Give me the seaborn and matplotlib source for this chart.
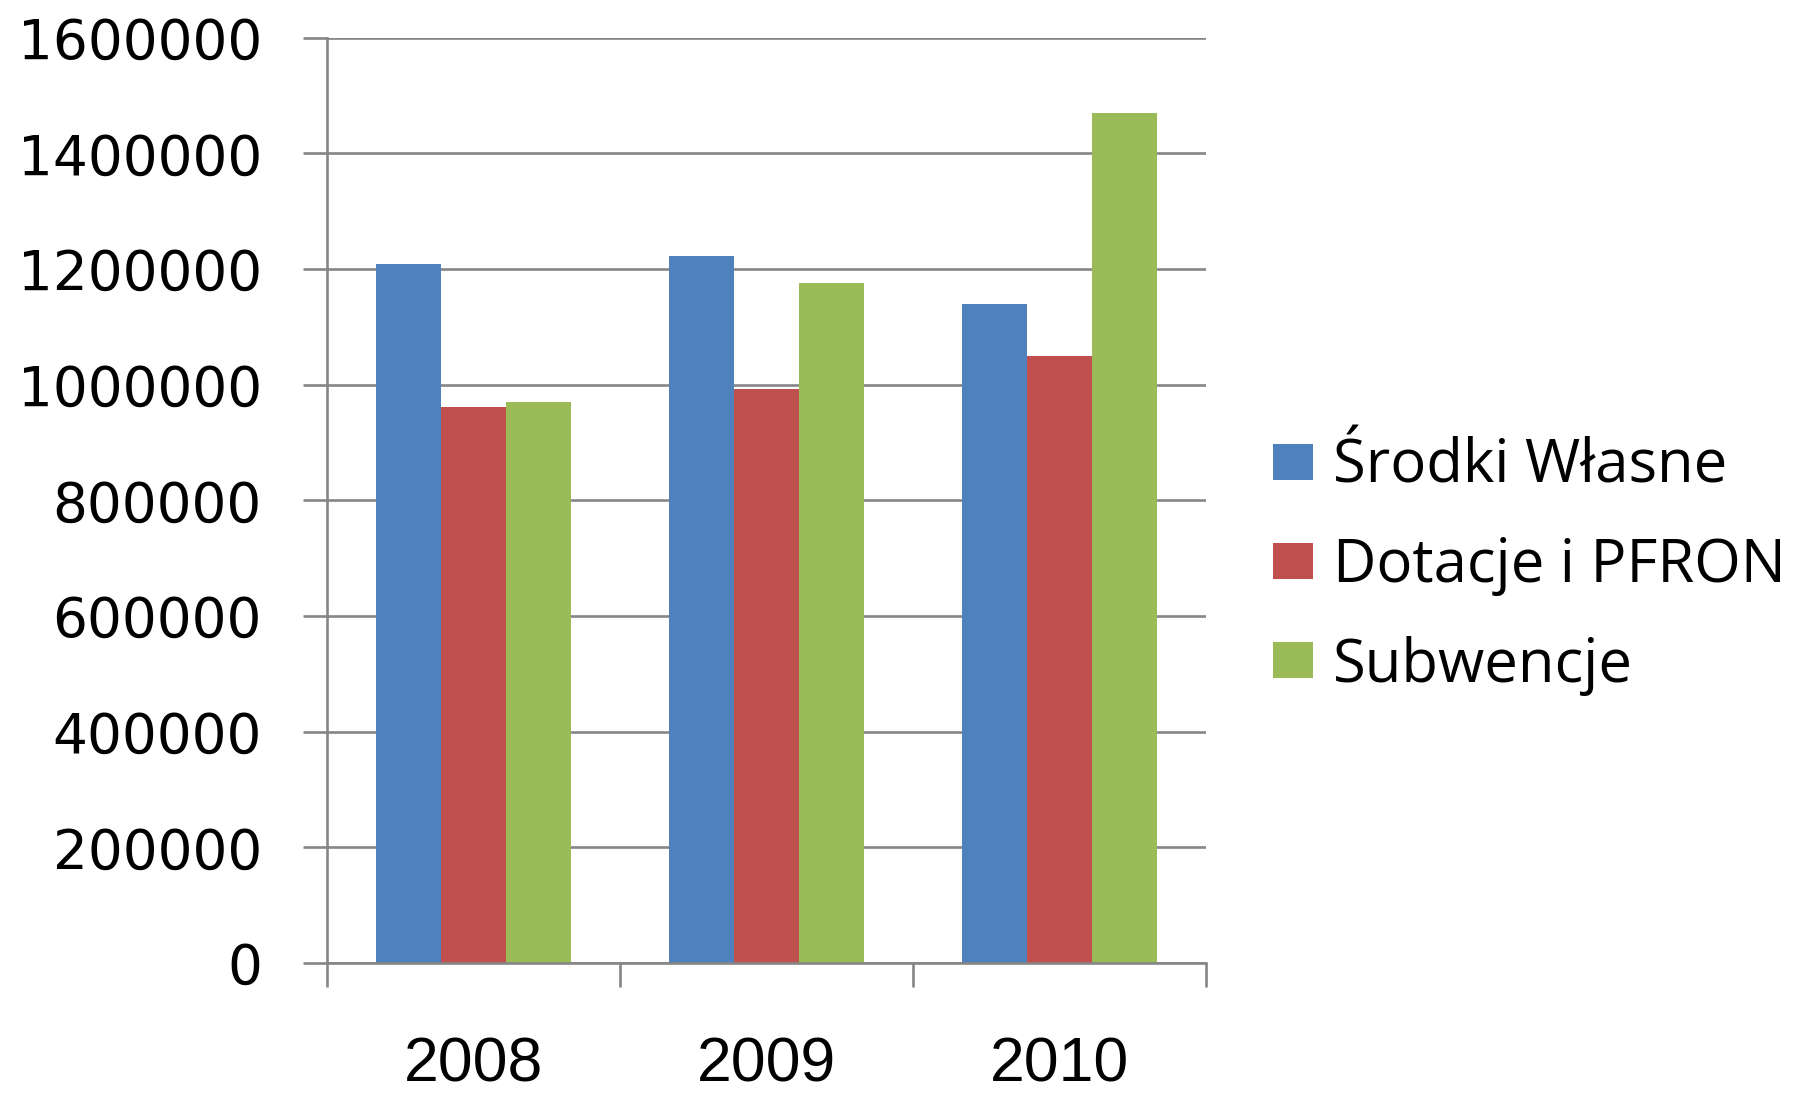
import matplotlib

matplotlib.use("Agg")
import matplotlib.pyplot as plt
import pandas as pd
import seaborn as sns

YEARS = ["2008", "2009", "2010"]
SERIES = ["Środki Własne", "Dotacje i PFRON", "Subwencje"]
SRODKI_WLASNE = [1208000, 1222000, 1139000]
DOTACJE_PFRON = [962000, 993000, 1049000]
SUBWENCJE = [971000, 1176000, 1470000]
Y_TICKS = [0, 200000, 400000, 600000, 800000, 1000000, 1200000, 1400000, 1600000]

COLORS = ["#4F81BD", "#C0504D", "#9BBB59"]
GRID = "#868686"

rows = []
for name, vals in zip(SERIES, [SRODKI_WLASNE, DOTACJE_PFRON, SUBWENCJE]):
    for year, v in zip(YEARS, vals):
        rows.append({"year": year, "series": name, "value": v})
df = pd.DataFrame(rows)

sns.set_theme(style="white")
plt.rcParams["font.family"] = ["DejaVu Sans"]
plt.rcParams["text.color"] = "black"
plt.rcParams["xtick.color"] = "black"
plt.rcParams["ytick.color"] = "black"

fig, ax = plt.subplots(figsize=(17.94, 10.93), dpi=100)
fig.subplots_adjust(left=0.1823, right=0.6722, top=0.9654, bottom=0.1189)

sns.barplot(
    data=df, x="year", y="value", hue="series", hue_order=SERIES,
    order=YEARS, palette=COLORS, width=0.665, saturation=1,
    linewidth=0, ax=ax,
)

ax.set_ylim(0, 1600000)
ax.set_xlim(-0.5, 2.5)
ax.set_yticks(Y_TICKS)
ax.set_yticklabels([str(t) for t in Y_TICKS], fontsize=39.5, color="black")
ax.yaxis.grid(True, color=GRID, linewidth=1.9)
ax.set_axisbelow(True)

# year labels sit between the boundary ticks
ax.set_xticks([-0.5, 0.5, 1.5, 2.5])
ax.set_xticklabels([])
ax.set_xticks([0, 1, 2], minor=True)
ax.set_xticklabels(YEARS, minor=True, fontsize=45, family="Liberation Sans", color="black")
ax.tick_params(axis="x", which="major", bottom=True, length=17, width=1.9,
               color=GRID, direction="out")
ax.tick_params(axis="x", which="minor", bottom=True, length=0, pad=52)
ax.tick_params(axis="y", length=17, width=1.9, color=GRID, pad=30, left=True)

for side in ["top", "right"]:
    ax.spines[side].set_visible(False)
for side in ["left", "bottom"]:
    ax.spines[side].set_color(GRID)
    ax.spines[side].set_linewidth(1.9)

ax.set_xlabel("")
ax.set_ylabel("")

handles, labels = ax.get_legend_handles_labels()
leg = ax.legend(
    handles, labels, loc="center left", bbox_to_anchor=(0.7096, 0.482),
    bbox_transform=fig.transFigure, frameon=False, borderpad=0,
    borderaxespad=0, handlelength=0.67, handleheight=0.55,
    handletextpad=0.33, labelspacing=0.66,
    prop={"family": "Open Sans", "size": 43},
)
for t in leg.get_texts():
    t.set_color("black")

fig.savefig("out.png", dpi=100)
